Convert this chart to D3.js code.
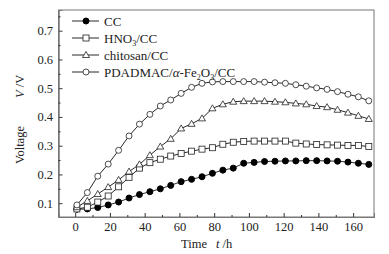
<!DOCTYPE html>
<html>
<head>
<meta charset="utf-8">
<script src="https://cdn.jsdelivr.net/npm/d3@7"></script>
<style>
  body { margin: 0; background: #fff; }
</style>
</head>
<body>
<div id="chart"></div>
<script>
// sampling times (h)
const times = d3.range(1, 170, 6);

const ccValues = [0.079, 0.080, 0.085, 0.094, 0.104, 0.118, 0.130, 0.140, 0.150, 0.162,
    0.175, 0.183, 0.192, 0.204, 0.215, 0.222, 0.239, 0.242, 0.245, 0.246,
    0.247, 0.247, 0.248, 0.248, 0.247, 0.246, 0.243, 0.239, 0.235];
const hno3Values = [0.080, 0.086, 0.104, 0.125, 0.157, 0.190, 0.222, 0.241, 0.253, 0.264,
    0.273, 0.281, 0.288, 0.293, 0.305, 0.312, 0.315, 0.316, 0.316, 0.316,
    0.316, 0.309, 0.306, 0.304, 0.303, 0.302, 0.301, 0.301, 0.297];
const chitosanValues = [0.086, 0.108, 0.132, 0.156, 0.181, 0.210, 0.235, 0.267, 0.297, 0.324,
    0.360, 0.376, 0.395, 0.430, 0.444, 0.453, 0.455, 0.455, 0.455, 0.453,
    0.451, 0.447, 0.444, 0.438, 0.434, 0.425, 0.415, 0.404, 0.393];
const pdadmacValues = [0.094, 0.137, 0.194, 0.236, 0.284, 0.334, 0.375, 0.409, 0.438, 0.459,
    0.482, 0.503, 0.517, 0.522, 0.523, 0.523, 0.523, 0.523, 0.521, 0.519,
    0.517, 0.512, 0.507, 0.501, 0.496, 0.488, 0.479, 0.470, 0.456];

const seriesNames = ["CC", "HNO3/CC", "chitosan/CC", "PDADMAC/α-Fe2O3/CC"];
const seriesMarkers = ["filledCircle", "square", "triangle", "circle"];
const seriesValues = [ccValues, hno3Values, chitosanValues, pdadmacValues];

const xTicks = [0, 20, 40, 60, 80, 100, 120, 140, 160];
const yTicks = [0.1, 0.2, 0.3, 0.4, 0.5, 0.6, 0.7];

const serif = "'Liberation Serif', 'Times New Roman', 'DejaVu Serif', serif";

const width = 389, height = 254;
const margin = {top: 10, left: 58.5, right: 15, bottom: 37};

const svg = d3.select("#chart").append("svg")
    .attr("width", width)
    .attr("height", height)
    .style("font-family", serif);

const xScale = d3.scaleLinear()
    .domain([-9.6, 172])
    .range([margin.left, width - margin.right]);

const yScale = d3.scaleLinear()
    .domain([0.052, 0.772])
    .range([height - margin.bottom, margin.top]);

// frame
svg.append("rect")
    .attr("x", margin.left)
    .attr("y", margin.top)
    .attr("width", width - margin.right - margin.left)
    .attr("height", height - margin.bottom - margin.top)
    .attr("fill", "none")
    .attr("stroke", "#777")
    .attr("stroke-width", 1);

// axes, ticks pointing inward
const xAxis = svg.append("g")
    .attr("transform", `translate(0,${height - margin.bottom})`)
    .call(d3.axisBottom(xScale).tickValues(xTicks).tickSize(-4).tickPadding(5).tickFormat(d3.format("d")));
svg.append("g")
    .attr("transform", `translate(0,${height - margin.bottom})`)
    .call(d3.axisBottom(xScale).tickValues(d3.range(10, 170, 20)).tickSize(-2).tickFormat(""));

const yAxis = svg.append("g")
    .attr("transform", `translate(${margin.left},0)`)
    .call(d3.axisLeft(yScale).tickValues(yTicks).tickSize(-4).tickPadding(5.5).tickFormat(d3.format(".1f")));
svg.append("g")
    .attr("transform", `translate(${margin.left},0)`)
    .call(d3.axisLeft(yScale).tickValues(d3.range(0.15, 0.76, 0.1)).tickSize(-2).tickFormat(""));

svg.selectAll("g").attr("font-family", serif);
svg.selectAll(".domain").attr("stroke", "#777");
svg.selectAll(".tick line").attr("stroke", "#333");
svg.selectAll(".tick text")
    .attr("font-size", 12.5)
    .attr("fill", "#222");

// axis titles
const xLabel = svg.append("text")
    .attr("x", 181)
    .attr("y", 248)
    .attr("font-size", 12.5)
    .attr("fill", "#222");
xLabel.append("tspan").text("Time");
xLabel.append("tspan").attr("x", 216).attr("font-style", "italic").text("t");
xLabel.append("tspan").text(" /h");

const yLabel = svg.append("text")
    .attr("transform", "rotate(-90)")
    .attr("x", -164)
    .attr("y", 24)
    .attr("font-size", 12.5)
    .attr("fill", "#222");
yLabel.append("tspan").text("Voltage");
yLabel.append("tspan").attr("x", -98).attr("font-style", "italic").text("V");
yLabel.append("tspan").text(" /V");

// marker drawing
function drawMarker(g, type, x, y) {
    if (type === "filledCircle") {
        g.append("circle").attr("cx", x).attr("cy", y).attr("r", 3)
            .attr("fill", "#000").attr("stroke", "#000");
    } else if (type === "circle") {
        g.append("circle").attr("cx", x).attr("cy", y).attr("r", 3)
            .attr("fill", "#fff").attr("stroke", "#222").attr("stroke-width", 0.8);
    } else if (type === "square") {
        g.append("rect").attr("x", x - 3).attr("y", y - 3).attr("width", 6).attr("height", 6)
            .attr("fill", "#fff").attr("stroke", "#222").attr("stroke-width", 0.8);
    } else if (type === "triangle") {
        g.append("path")
            .attr("d", `M${x},${y - 3.5}L${x + 3.5},${y + 2.5}L${x - 3.5},${y + 2.5}Z`)
            .attr("fill", "#fff").attr("stroke", "#222").attr("stroke-width", 0.8);
    }
}

const line = d3.line()
    .x(function(d) { return xScale(d.t); })
    .y(function(d) { return yScale(d.v); });

seriesValues.forEach(function(values, i) {
    const data = values.map(function(v, j) { return {t: times[j], v: v}; });
    const g = svg.append("g");
    g.append("path")
        .datum(data)
        .attr("d", line)
        .attr("fill", "none")
        .attr("stroke", "#111")
        .attr("stroke-width", 0.9);
    data.forEach(function(d) {
        drawMarker(g, seriesMarkers[i], xScale(d.t), yScale(d.v));
    });
});

// legend
const legendY = [21, 38, 55, 72];
seriesNames.forEach(function(name, i) {
    const g = svg.append("g");
    g.append("line")
        .attr("x1", 72).attr("x2", 99)
        .attr("y1", legendY[i]).attr("y2", legendY[i])
        .attr("stroke", "#111").attr("stroke-width", 0.9);
    drawMarker(g, seriesMarkers[i], 86, legendY[i]);
    const t = g.append("text")
        .attr("x", 104)
        .attr("y", legendY[i] + 4.5)
        .attr("font-size", 13)
        .attr("fill", "#222");
    if (i === 1) {
        t.append("tspan").text("HNO");
        t.append("tspan").attr("font-size", 8).attr("dy", 3).text("3");
        t.append("tspan").attr("dy", -3).text("/CC");
    } else if (i === 3) {
        t.append("tspan").text("PDADMAC/");
        t.append("tspan").attr("font-style", "italic").text("α");
        t.append("tspan").text("-Fe");
        t.append("tspan").attr("font-size", 8).attr("dy", 3).text("2");
        t.append("tspan").attr("dy", -3).text("O");
        t.append("tspan").attr("font-size", 8).attr("dy", 3).text("3");
        t.append("tspan").attr("dy", -3).text("/CC");
    } else {
        t.text(name);
    }
});
</script>
</body>
</html>
